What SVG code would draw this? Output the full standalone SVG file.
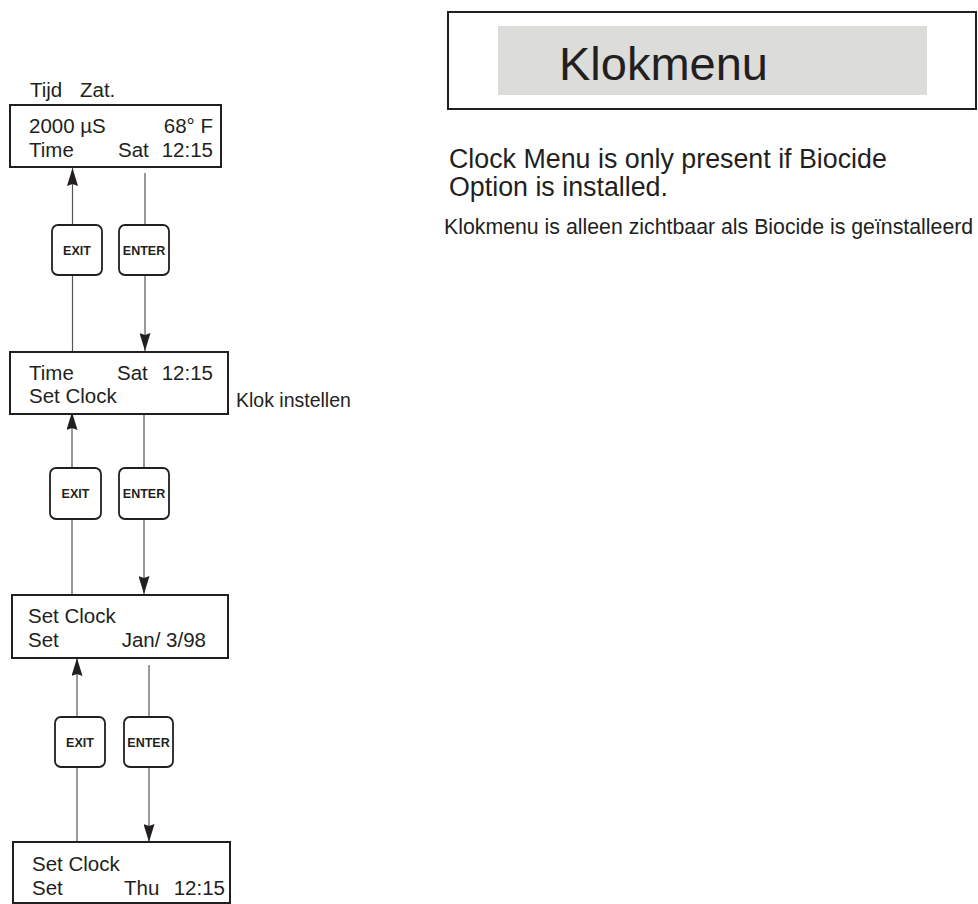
<svg xmlns="http://www.w3.org/2000/svg" width="978" height="904" viewBox="0 0 978 904">
<defs>
<style>
.bg{fill:#ffffff}
.box{fill:#ffffff;stroke:#231f20;stroke-width:2}
.btn{fill:#ffffff;stroke:#231f20;stroke-width:1.8}
.t{font-family:"Liberation Sans",Arial,sans-serif;font-size:20.5px;fill:#231f20}
.lbl{font-family:"Liberation Sans",Arial,sans-serif;font-size:19.5px;fill:#231f20}
.bt{font-family:"Liberation Sans",Arial,sans-serif;font-size:12.5px;font-weight:bold;fill:#231f20;text-anchor:middle}
.ln{fill:none;stroke:#555555;stroke-width:1.2}
.r{text-anchor:end}
</style>
<marker id="ah" viewBox="0 0 18 11" refX="18" refY="5.5" markerWidth="18" markerHeight="11" markerUnits="userSpaceOnUse" orient="auto">
<path d="M0,0 L18,5.5 L0,11 L2,5.5 z" fill="#231f20"/>
</marker>
</defs>
<rect class="bg" x="0" y="0" width="978" height="904"/>

<g id="title">
<rect x="448" y="12" width="528" height="97" fill="#ffffff" stroke="#231f20" stroke-width="2"/>
<rect x="498" y="26" width="429" height="69" fill="#dcdcdb"/>
<text x="559" y="80" font-family="Liberation Sans, Arial, sans-serif" font-size="47" fill="#231f20">Klokmenu</text>
</g>

<g id="notes">
<text x="449" y="168" font-family="Liberation Sans, Arial, sans-serif" font-size="26.8" fill="#231f20">Clock Menu is only present if Biocide</text>
<text x="449" y="196" font-family="Liberation Sans, Arial, sans-serif" font-size="26.8" fill="#231f20">Option is installed.</text>
<text x="444" y="234" font-family="Liberation Sans, Arial, sans-serif" font-size="21.3" fill="#231f20">Klokmenu is alleen zichtbaar als Biocide is geïnstalleerd</text>
</g>

<g id="connectors">
<!-- row 1 -->
<path class="ln" d="M72.5,225 V168" marker-end="url(#ah)"/>
<path class="ln" d="M72.5,352 V275"/>
<path class="ln" d="M145,173 V225"/>
<path class="ln" d="M145,275 V351" marker-end="url(#ah)"/>
<!-- row 2 -->
<path class="ln" d="M72,468 V412" marker-end="url(#ah)"/>
<path class="ln" d="M72,595 V519"/>
<path class="ln" d="M144,414 V468"/>
<path class="ln" d="M144,519 V594" marker-end="url(#ah)"/>
<!-- row 3 -->
<path class="ln" d="M77,717 V658" marker-end="url(#ah)"/>
<path class="ln" d="M77,842 V767"/>
<path class="ln" d="M149,665 V717"/>
<path class="ln" d="M149,767 V842" marker-end="url(#ah)"/>
</g>

<g id="screen-main">
<text class="t" x="30" y="97">Tijd</text>
<text class="t" x="80" y="97">Zat.</text>
<rect class="box" x="10" y="105" width="211" height="62"/>
<text class="t" x="29" y="133">2000 µS</text>
<text class="t r" x="213" y="133">68° F</text>
<text class="t" x="29" y="157">Time</text>
<text class="t" x="118" y="157">Sat</text>
<text class="t r" x="213" y="157">12:15</text>
</g>

<g id="screen-time">
<rect class="box" x="10" y="352" width="218" height="62"/>
<text class="t" x="29" y="380">Time</text>
<text class="t" x="117" y="380">Sat</text>
<text class="t r" x="213" y="380">12:15</text>
<text class="t" x="29" y="403">Set Clock</text>
<text class="lbl" x="236" y="407">Klok instellen</text>
</g>

<g id="screen-setdate">
<rect class="box" x="12" y="595" width="216" height="63"/>
<text class="t" x="28" y="623">Set Clock</text>
<text class="t" x="28" y="647">Set</text>
<text class="t r" x="206" y="647">Jan/ 3/98</text>
</g>

<g id="screen-setday">
<rect class="box" x="13" y="842" width="217" height="61"/>
<text class="t" x="32" y="871">Set Clock</text>
<text class="t" x="32" y="895">Set</text>
<text class="t" x="124" y="895">Thu</text>
<text class="t r" x="225" y="895">12:15</text>
</g>

<g id="btn-exit-1"><rect class="btn" x="52" y="225" width="50" height="50" rx="6"/><text class="bt" x="77" y="254.5">EXIT</text></g>
<g id="btn-enter-1"><rect class="btn" x="119" y="225" width="50" height="50" rx="6"/><text class="bt" x="144" y="254.5">ENTER</text></g>
<g id="btn-exit-2"><rect class="btn" x="50" y="468" width="51" height="51" rx="6"/><text class="bt" x="75.5" y="498">EXIT</text></g>
<g id="btn-enter-2"><rect class="btn" x="119" y="468" width="50" height="51" rx="6"/><text class="bt" x="144" y="498">ENTER</text></g>
<g id="btn-exit-3"><rect class="btn" x="55" y="717" width="50" height="50" rx="6"/><text class="bt" x="80" y="746.5">EXIT</text></g>
<g id="btn-enter-3"><rect class="btn" x="124" y="717" width="49" height="50" rx="6"/><text class="bt" x="148.5" y="746.5">ENTER</text></g>
</svg>
